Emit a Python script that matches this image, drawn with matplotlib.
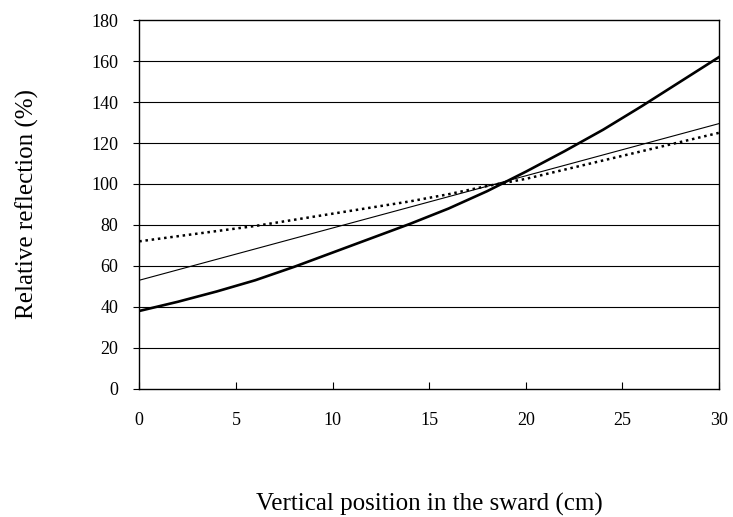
import matplotlib.pyplot as plt

plt.rcParams['font.family'] = ['Liberation Serif', 'DejaVu Serif']

# thick solid curve
x_thick = [0, 2, 4, 6, 8, 10, 12, 14, 16, 18, 20, 22, 24, 26, 28, 30]
y_thick = [38, 42.5, 47.5, 53, 59.5, 66.5, 73.5, 80.5, 88, 96.5, 106, 116, 126.5, 138, 150, 162]

# thin straight line
x_thin = [0, 30]
y_thin = [53, 129.5]

# dotted curve
x_dot = [0, 2, 4, 6, 8, 10, 12, 14, 16, 18, 20, 22, 24, 26, 28, 30]
y_dot = [72, 74.5, 77, 79.5, 82.5, 85.5, 88.5, 91.5, 95, 99, 102.5, 107, 111.5, 116, 120.5, 125]

xticks = [0, 5, 10, 15, 20, 25, 30]
yticks = [0, 20, 40, 60, 80, 100, 120, 140, 160, 180]

fig = plt.figure(figsize=(7.33, 5.17), dpi=100)
ax = fig.add_axes([0.19, 0.248, 0.791, 0.713])

# horizontal grid lines
for yv in yticks[1:-1]:
    ax.axhline(yv, color='black', lw=0.8, zorder=1)

ax.plot(x_dot, y_dot, color='black', lw=1.8, linestyle=(0, (1, 1.5)), zorder=3)
ax.plot(x_thin, y_thin, color='black', lw=0.8, zorder=3)
ax.plot(x_thick, y_thick, color='black', lw=1.9, zorder=4)

ax.set_xlim(0, 30)
ax.set_ylim(0, 180)
ax.set_xticks(xticks)
ax.set_yticks(yticks)
ax.tick_params(axis='x', direction='in', length=5, width=0.8, pad=17, labelsize=13)
ax.tick_params(axis='y', direction='out', length=4, width=0.8, pad=11, labelsize=13)
for s in ax.spines.values():
    s.set_linewidth(1.0)

ax.set_xlabel('Vertical position in the sward (cm)', fontsize=18, labelpad=46)
ax.set_ylabel('Relative reflection (%)', fontsize=18, labelpad=38)

fig.savefig('out.png', dpi=100)
